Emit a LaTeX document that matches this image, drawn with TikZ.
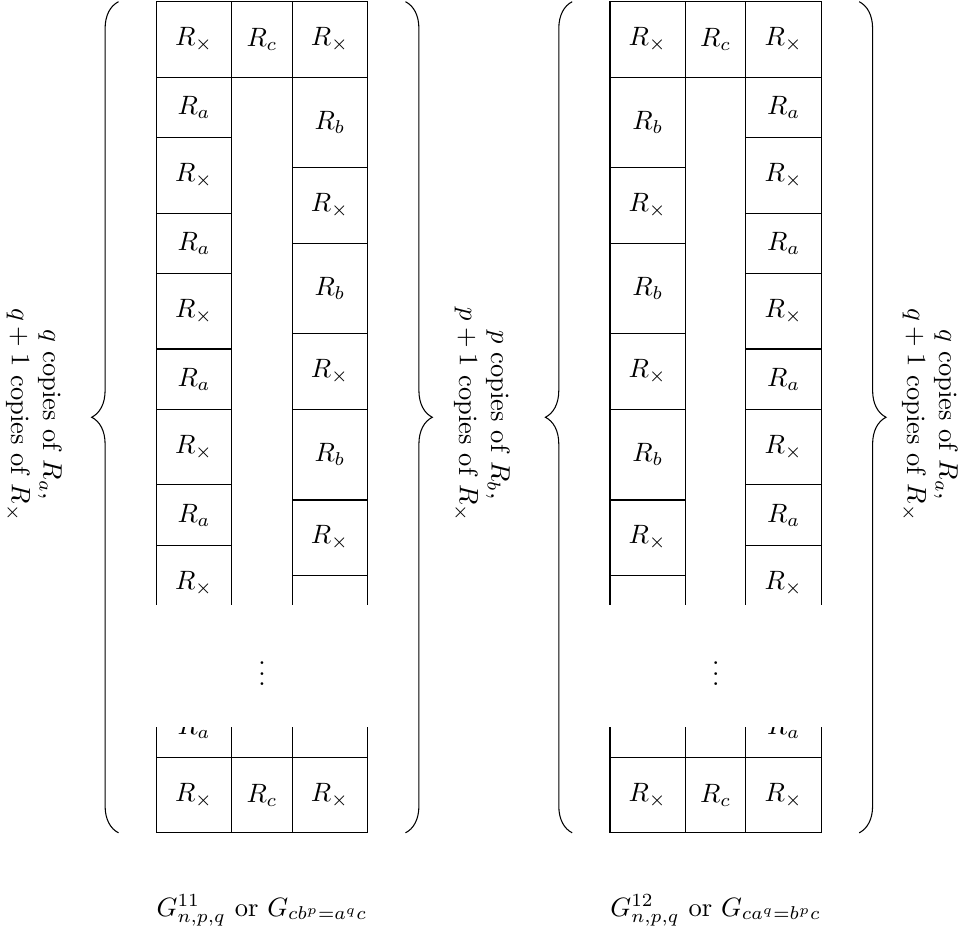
\documentclass[tikz,border=0pt]{standalone}
\usetikzlibrary{decorations.pathreplacing}
\begin{document}
\begin{tikzpicture}[x=0.013245cm,y=-0.013245cm,
  xcell/.style={draw, rectangle, inner sep=0pt, outer sep=0pt, minimum width=1cm, minimum height=1cm},
  acell/.style={draw, rectangle, inner sep=0pt, outer sep=0pt, minimum width=1cm, minimum height=0.8cm},
  bcell/.style={draw, rectangle, inner sep=0pt, outer sep=0pt, minimum width=1cm, minimum height=1.2cm},
  ccell/.style={draw, rectangle, inner sep=0pt, outer sep=0pt, minimum width=0.8cm, minimum height=1cm},
  bracestyle/.style={decorate, decoration={brace, amplitude=0.355cm}},
  sidelabel/.style={rotate=-90, align=center, inner sep=0pt},
  caption/.style={inner sep=0pt, anchor=base}]
\useasboundingbox (0,0) rectangle (972,931);

% ---------------- left table ----------------
\draw (156.3,77.2) rectangle (367.7,757.3);
\draw (231.8,77.2) -- (231.8,757.3);
\draw (292.2,77.2) -- (292.2,757.3);
\node[xcell] (LT1) at (194.05,39.45) {$R_\times$};
\node[ccell] (LT2) at (262,39.45) {$R_c$};
\node[xcell] (LT3) at (329.95,39.45) {$R_\times$};
\node[acell] (LA1) at (194.05,107.4) {$R_a$};
\node[xcell] (LX1) at (194.05,175.35) {$R_\times$};
\node[acell] (LA2) at (194.05,243.3) {$R_a$};
\node[xcell] (LX2) at (194.05,311.25) {$R_\times$};
\node[acell] (LA3) at (194.05,379.2) {$R_a$};
\node[xcell] (LX3) at (194.05,447.15) {$R_\times$};
\node[acell] (LA4) at (194.05,515.1) {$R_a$};
\node[xcell] (LX4) at (194.05,583.05) {$R_\times$};
\node[bcell] (LB1) at (329.95,122.5) {$R_b$};
\node[xcell] (LY1) at (329.95,205.55) {$R_\times$};
\node[bcell] (LB2) at (329.95,288.6) {$R_b$};
\node[xcell] (LY2) at (329.95,371.65) {$R_\times$};
\node[bcell] (LB3) at (329.95,454.7) {$R_b$};
\node[xcell] (LY3) at (329.95,537.75) {$R_\times$};
\node[bcell] (LB4) at (329.95,620.8) {};
\node[acell] (LA5) at (194.05,727.1) {$R_a$};
\fill[white] (150,605) rectangle (375,726.7);
\node (Ldots) at (262,666) {$\vdots$};
\node[xcell] (LM1) at (194.05,795.05) {$R_\times$};
\node[ccell] (LM2) at (262,795.05) {$R_c$};
\node[xcell] (LM3) at (329.95,795.05) {$R_\times$};

% ---------------- right table ----------------
\draw (610,77.2) rectangle (821.4,757.3);
\draw (685.5,77.2) -- (685.5,757.3);
\draw (745.9,77.2) -- (745.9,757.3);
\node[xcell] (RT1) at (647.75,39.45) {$R_\times$};
\node[ccell] (RT2) at (715.7,39.45) {$R_c$};
\node[xcell] (RT3) at (783.65,39.45) {$R_\times$};
\node[bcell] (RB1) at (647.75,122.5) {$R_b$};
\node[xcell] (RY1) at (647.75,205.55) {$R_\times$};
\node[bcell] (RB2) at (647.75,288.6) {$R_b$};
\node[xcell] (RY2) at (647.75,371.65) {$R_\times$};
\node[bcell] (RB3) at (647.75,454.7) {$R_b$};
\node[xcell] (RY3) at (647.75,537.75) {$R_\times$};
\node[bcell] (RB4) at (647.75,620.8) {};
\node[acell] (RA1) at (783.65,107.4) {$R_a$};
\node[xcell] (RX1) at (783.65,175.35) {$R_\times$};
\node[acell] (RA2) at (783.65,243.3) {$R_a$};
\node[xcell] (RX2) at (783.65,311.25) {$R_\times$};
\node[acell] (RA3) at (783.65,379.2) {$R_a$};
\node[xcell] (RX3) at (783.65,447.15) {$R_\times$};
\node[acell] (RA4) at (783.65,515.1) {$R_a$};
\node[xcell] (RX4) at (783.65,583.05) {$R_\times$};
\node[acell] (RA5) at (783.65,727.1) {$R_a$};
\fill[white] (603,605) rectangle (828,726.7);
\node (Rdots) at (715.7,666) {$\vdots$};
\node[xcell] (RM1) at (647.75,795.05) {$R_\times$};
\node[ccell] (RM2) at (715.7,795.05) {$R_c$};
\node[xcell] (RM3) at (783.65,795.05) {$R_\times$};

% ---------------- braces ----------------
\coordinate (b1s) at (118.5,832.8);
\coordinate (b1e) at (118.5,1.7);
\coordinate (b2s) at (405.5,1.7);
\coordinate (b2e) at (405.5,832.8);
\coordinate (b3s) at (572.2,832.8);
\coordinate (b3e) at (572.2,1.7);
\coordinate (b4s) at (859.2,1.7);
\coordinate (b4e) at (859.2,832.8);
\draw[bracestyle] (b1s) -- (b1e);
\draw[bracestyle] (b2s) -- (b2e);
\draw[bracestyle] (b3s) -- (b3e);
\draw[bracestyle] (b4s) -- (b4e);

% ---------------- labels ----------------
\node[sidelabel] (lab1) at (34,415) {$q$ copies of $R_a$,\\ $q+1$ copies of $R_\times$};
\node[sidelabel] (lab2) at (482,415) {$p$ copies of $R_b$,\\ $p+1$ copies of $R_\times$};
\node[sidelabel] (lab3) at (930,415) {$q$ copies of $R_a$,\\ $q+1$ copies of $R_\times$};

\node[caption] (cap1) at (262,916) {$G^{11}_{n,p,q}$ or $G_{cb^p=a^qc}$};
\node[caption] (cap2) at (715.7,916) {$G^{12}_{n,p,q}$ or $G_{ca^q=b^pc}$};
\end{tikzpicture}
\end{document}
